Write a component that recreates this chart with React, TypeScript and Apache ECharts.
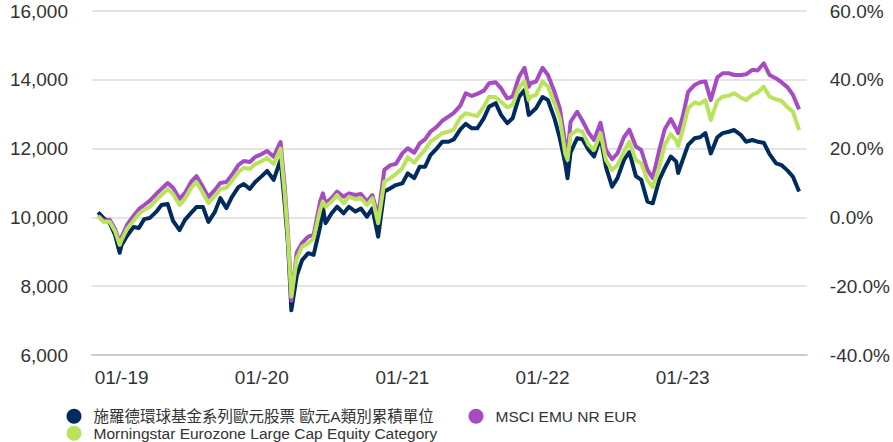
import React, { useEffect, useRef } from 'react';
import * as echarts from 'echarts';

const dates = [
  '2018-11-01','2018-11-15','2018-12-01','2018-12-15','2018-12-27','2019-01-01','2019-01-15','2019-02-01','2019-02-15','2019-03-01',
  '2019-03-15','2019-04-01','2019-04-15','2019-05-01','2019-05-15','2019-06-01','2019-06-15','2019-07-01','2019-07-15','2019-08-01',
  '2019-08-15','2019-09-01','2019-09-15','2019-10-01','2019-10-15','2019-11-01','2019-11-15','2019-12-01','2019-12-15','2020-01-01',
  '2020-01-15','2020-02-01','2020-02-15','2020-02-19','2020-03-01','2020-03-09','2020-03-15','2020-03-18','2020-04-01','2020-04-15',
  '2020-05-01','2020-05-15','2020-06-01','2020-06-08','2020-06-15','2020-07-01','2020-07-15','2020-08-01','2020-08-15','2020-09-01',
  '2020-09-15','2020-10-01','2020-10-15','2020-10-30','2020-11-15','2020-12-01','2020-12-15','2021-01-01','2021-01-15','2021-02-01',
  '2021-02-15','2021-03-01','2021-03-15','2021-04-01','2021-04-15','2021-05-01','2021-05-15','2021-06-01','2021-06-15','2021-07-01',
  '2021-07-15','2021-08-01','2021-08-15','2021-09-01','2021-09-15','2021-10-01','2021-10-15','2021-11-01','2021-11-15','2021-11-26',
  '2021-12-01','2021-12-15','2022-01-01','2022-01-15','2022-02-01','2022-02-15','2022-03-01','2022-03-07','2022-03-15','2022-04-01',
  '2022-04-15','2022-05-01','2022-05-15','2022-06-01','2022-06-15','2022-07-01','2022-07-15','2022-08-01','2022-08-15','2022-09-01',
  '2022-09-15','2022-10-01','2022-10-15','2022-11-01','2022-11-15','2022-12-01','2022-12-15','2022-12-20','2023-01-01','2023-01-15',
  '2023-02-01','2023-02-15','2023-03-01','2023-03-15','2023-04-01','2023-04-15','2023-05-01','2023-05-15','2023-06-01','2023-06-15',
  '2023-07-01','2023-07-15','2023-07-31','2023-08-15','2023-09-01','2023-09-15','2023-10-01','2023-10-15','2023-10-31',
];

const fundValues = [
  10150, 9980, 9840, 9490, 8970, 9200, 9460, 9720, 9690, 9950,
  9980, 10160, 10360, 10390, 9900, 9630, 9930, 10130, 10300, 10300,
  9870, 10160, 10560, 10270, 10590, 10880, 10970, 10830, 11030, 11200,
  11350, 11090, 11550, 11670, 10360, 9260, 7990, 7300, 8300, 8760,
  8960, 8910, 9730, 10310, 9830, 10120, 10310, 10120, 10310, 10170,
  10260, 10020, 10260, 9440, 10750, 10850, 10940, 10990, 11280, 11140,
  11470, 11470, 11810, 12010, 12200, 12200, 12270, 12560, 12720, 12590,
  12590, 12880, 13220, 13320, 12980, 12740, 12880, 13510, 13700, 12980,
  13030, 13170, 13500, 13410, 12880, 12300, 11570, 11140, 11890, 12300,
  12270, 11960, 11770, 12330, 11470, 10890, 11140, 11670, 11900, 11200,
  11090, 10460, 10410, 11090, 11430, 11770, 11620, 11290, 11670, 12110,
  12300, 12330, 12450, 11860, 12330, 12450, 12490, 12540, 12400, 12200,
  12250, 12200, 12170, 11840, 11570, 11520, 11360, 11180, 10750,
];

const msciValues = [
  10040, 9900, 9930, 9660, 9290, 9430, 9780, 10040, 10240, 10360,
  10480, 10680, 10830, 11000, 10860, 10540, 10710, 11030, 11200, 10880,
  10590, 10800, 11000, 11030, 11230, 11520, 11640, 11610, 11760, 11840,
  11930, 11760, 12110, 12190, 10860, 9580, 8410, 7580, 8980, 9260,
  9440, 9490, 10460, 10700, 10410, 10560, 10750, 10600, 10700, 10650,
  10680, 10460, 10650, 10020, 11380, 11520, 11550, 11860, 12010, 11880,
  12150, 12270, 12490, 12640, 12810, 12930, 13040, 13250, 13610, 13530,
  13590, 13680, 13900, 13930, 13750, 13460, 13510, 14090, 14350, 13800,
  13900, 13950, 14350, 14140, 13650, 13170, 12150, 11860, 12780, 13070,
  12810, 12460, 12250, 12750, 11960, 11690, 11860, 12330, 12550, 12060,
  11960, 11380, 11140, 11960, 12560, 12860, 12570, 12450, 12930, 13650,
  13850, 13930, 13950, 13410, 14070, 14190, 14190, 14140, 14140, 14160,
  14290, 14270, 14480, 14140, 14040, 13930, 13780, 13560, 13140,
];

const categoryValues = [
  10040, 9870, 9870, 9600, 9200, 9340, 9660, 9900, 10100, 10220,
  10300, 10510, 10650, 10830, 10680, 10360, 10540, 10860, 11030, 10710,
  10420, 10620, 10830, 10860, 11060, 11320, 11440, 11410, 11550, 11640,
  11730, 11550, 11900, 12000, 10650, 9440, 8280, 7700, 8800, 9150,
  9250, 9390, 10220, 10460, 10310, 10460, 10650, 10410, 10600, 10530,
  10560, 10360, 10560, 9830, 11040, 11140, 11260, 11430, 11750, 11590,
  11790, 11960, 12200, 12330, 12450, 12490, 12560, 12900, 13030, 12980,
  12950, 13220, 13510, 13490, 13360, 13200, 13270, 13780, 13960, 13410,
  13510, 13560, 13950, 13800, 13320, 12880, 11860, 11670, 12400, 12540,
  12490, 12110, 11960, 12450, 11670, 11380, 11520, 11910, 12200, 11670,
  11570, 11090, 10880, 11470, 12110, 12420, 12230, 12080, 12540, 13170,
  13340, 13300, 13410, 12830, 13390, 13510, 13540, 13610, 13480, 13410,
  13560, 13630, 13800, 13510, 13430, 13390, 13200, 13070, 12540,
];

const xTickDates = ['2019-01-01', '2020-01-01', '2021-01-01', '2022-01-01', '2023-01-01'];
const xTickLabels = ['01/-19', '01/-20', '01/-21', '01/-22', '01/-23'];

const seriesNames = [
  '施羅德環球基金系列歐元股票 歐元A類別累積單位',
  'MSCI EMU NR EUR',
  'Morningstar Eurozone Large Cap Equity Category',
];
const seriesColors = ['#002b5e', '#a64bc4', '#b9e35a'];

const FONT = '"Liberation Sans", Arial, "Noto Sans CJK TC", sans-serif';

function toTs(s: string): number {
  const [y, m, d] = s.split('-').map(Number);
  return Date.UTC(y, m - 1, d);
}

export default function App() {
  const ref = useRef<HTMLDivElement>(null);

  useEffect(() => {
    if (!ref.current) return;
    const chart = echarts.init(ref.current, undefined, { renderer: 'svg' });
    const tickTs = xTickDates.map(toTs);
    const pairs = (vals: number[]) => dates.map((d, i) => [toTs(d), vals[i]]);
    const legendCommon = {
      orient: 'horizontal',
      icon: 'circle',
      itemWidth: 29,
      itemHeight: 15,
      selectedMode: false,
      textStyle: { fontSize: 15.5, color: '#333', fontFamily: FONT, lineHeight: 15 },
    };
    chart.setOption({
      animation: false,
      textStyle: { fontFamily: FONT },
      grid: { left: 92, right: 85, top: 11, bottom: 87 },
      legend: [
        { ...legendCommon, data: [seriesNames[0]], left: 61.5, top: 403.5 },
        { ...legendCommon, data: [seriesNames[1]], left: 463.5, top: 403.5 },
        { ...legendCommon, data: [seriesNames[2]], left: 61.5, top: 420.5 },
      ],
      xAxis: {
        type: 'value',
        scale: true,
        min: toTs('2018-10-16'),
        max: toTs('2023-11-20'),
        axisLine: { show: true, onZero: false, lineStyle: { color: '#cccccc', width: 2 } },
        axisTick: { show: false },
        splitLine: { show: false },
        axisLabel: {
          customValues: tickTs,
          fontSize: 19,
          color: '#333',
          fontFamily: FONT,
          margin: 13,
          hideOverlap: false,
          showMinLabel: true,
          showMaxLabel: true,
          formatter: (v: number) => {
            let best = -1;
            let bd = Infinity;
            tickTs.forEach((t, i) => {
              const dd = Math.abs(t - v);
              if (dd < bd) { bd = dd; best = i; }
            });
            return best >= 0 && bd < 86400000 * 2 ? xTickLabels[best] : '';
          },
        },
      },
      yAxis: [
        {
          type: 'value',
          position: 'left',
          min: 6000,
          max: 16000,
          interval: 2000,
          axisLine: { show: false },
          axisTick: { show: false },
          splitLine: { show: true, lineStyle: { color: '#e4e4e4', width: 2 } },
          axisLabel: {
            fontSize: 19,
            color: '#333',
            fontFamily: FONT,
            margin: 24,
            formatter: (v: number) => v.toLocaleString('en-US'),
          },
        },
        {
          type: 'value',
          position: 'right',
          min: -40,
          max: 60,
          interval: 20,
          axisLine: { show: false },
          axisTick: { show: false },
          splitLine: { show: false },
          axisLabel: {
            fontSize: 19,
            color: '#333',
            fontFamily: FONT,
            margin: 23,
            formatter: (v: number) => v.toFixed(1) + '%',
          },
        },
      ],
      series: [
        { name: seriesNames[0], data: pairs(fundValues), color: seriesColors[0] },
        { name: seriesNames[1], data: pairs(msciValues), color: seriesColors[1] },
        { name: seriesNames[2], data: pairs(categoryValues), color: seriesColors[2] },
      ].map((s) => ({
        ...s,
        type: 'line',
        yAxisIndex: 0,
        symbol: 'none',
        lineStyle: { width: 4, color: s.color, join: 'round' },
        itemStyle: { color: s.color },
      })),
    });
    return () => chart.dispose();
  }, []);

  return (
    <div
      ref={ref}
      style={{ position: 'fixed', left: 0, top: 0, width: 893, height: 442, background: '#fff' }}
    />
  );
}
